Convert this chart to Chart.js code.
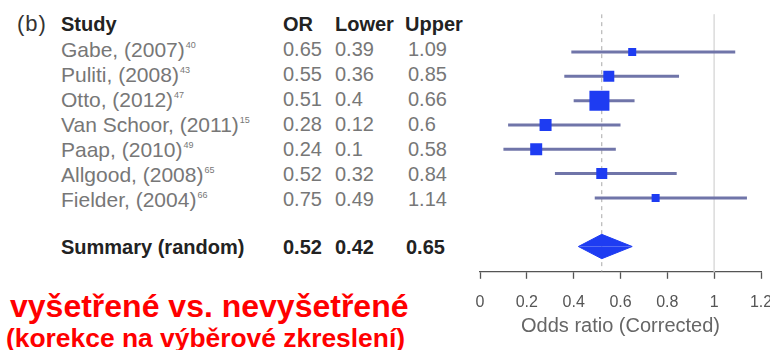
<!DOCTYPE html>
<html>
<head>
<meta charset="utf-8">
<script src="https://cdn.jsdelivr.net/npm/chart.js@4/dist/chart.umd.min.js"></script>
<style>
  html, body { margin: 0; padding: 0; background: #fff; }
  body { width: 770px; height: 350px; position: relative; overflow: hidden; font-family: "Liberation Sans", Arial, sans-serif; }
  .t { position: absolute; white-space: nowrap; font-size: 20px; line-height: 25px; color: #777; }
  .nm { font-size: 21px; }
  .hd { color: #222; font-weight: bold; font-size: 20px; }
  sup { font-size: 9px; vertical-align: 9px; line-height: 0; margin-left: 1px; }
  .red { position: absolute; white-space: nowrap; color: #ff0000; font-weight: bold; line-height: 1; }
  #wrap { position: absolute; left: 460px; top: 0; width: 340px; height: 350px; }
</style>
</head>
<body>
<div class="t" style="left:17px; top:11px; color:#333; font-size:22px; letter-spacing:1px;">(b)</div>
<div id="table"></div>
<div class="red" style="left:10px; top:290px; font-size:32px;">vyšetřené vs. nevyšetřené</div>
<div class="red" style="left:6px; top:325px; font-size:26.4px;">(korekce na výběrové zkreslení)</div>
<div id="wrap"><canvas id="forest" width="340" height="350"></canvas></div>

<script>
// data
const studies = ['Gabe, (2007)', 'Puliti, (2008)', 'Otto, (2012)', 'Van Schoor, (2011)', 'Paap, (2010)', 'Allgood, (2008)', 'Fielder, (2004)'];
const refs = ['40', '43', '47', '15', '49', '65', '66'];
const orValues = [0.65, 0.55, 0.51, 0.28, 0.24, 0.52, 0.75];
const lowerValues = [0.39, 0.36, 0.4, 0.12, 0.1, 0.32, 0.49];
const upperValues = [1.09, 0.85, 0.66, 0.6, 0.58, 0.84, 1.14];
const weights = [4, 5.5, 10, 6, 6, 5.5, 4]; // relative box weights
const summary = { label: 'Summary (random)', or: 0.52, lower: 0.42, upper: 0.65 };
const xTicks = [0, 0.2, 0.4, 0.6, 0.8, 1, 1.2];
const summaryRow = 9;

// left-hand table (html text)
const table = document.getElementById('table');
function cell(txt, left, row, cls) {
  const d = document.createElement('div');
  d.className = 't' + (cls ? ' ' + cls : '');
  d.style.left = left + 'px';
  d.style.top = (12 + row * 25) + 'px';
  d.innerHTML = txt;
  table.appendChild(d);
}
cell('Study', 61, 0, 'hd');
cell('OR', 283, 0, 'hd');
cell('Lower', 335, 0, 'hd');
cell('Upper', 405, 0, 'hd');
studies.forEach((s, i) => {
  cell(s + '<sup>' + refs[i] + '</sup>', 61, i + 1, 'nm');
  cell(String(orValues[i]), 283, i + 1);
  cell(String(lowerValues[i]), 335, i + 1);
  cell(String(upperValues[i]), 408, i + 1);
});
cell(summary.label, 61, summaryRow - 0.1, 'hd');
cell(String(summary.or), 283, summaryRow - 0.1, 'hd');
cell(String(summary.lower), 335, summaryRow - 0.1, 'hd');
cell(String(summary.upper), 406, summaryRow - 0.1, 'hd');

// chart datasets
const BLUE = '#1e3cf2';
const datasets = [];

datasets.push({
  type: 'scatter',
  data: orValues.map((v, i) => ({ x: v, y: i + 1 })),
  pointStyle: 'rect',
  pointRadius: weights.map(w => w * Math.SQRT2),
  backgroundColor: BLUE,
  borderColor: BLUE,
  borderWidth: 0,
  order: 0
});

// summary diamond: upper and lower halves filled to the summary row
[summaryRow - 0.5, summaryRow + 0.5].forEach(tip => {
  datasets.push({
    type: 'line',
    data: [{ x: summary.lower, y: summaryRow }, { x: summary.or, y: tip }, { x: summary.upper, y: summaryRow }],
    borderColor: BLUE,
    borderWidth: 1,
    backgroundColor: BLUE,
    fill: { value: summaryRow },
    pointRadius: 0,
    tension: 0,
    order: 1
  });
});

// confidence intervals
studies.forEach((s, i) => {
  datasets.push({
    type: 'line',
    data: [{ x: lowerValues[i], y: i + 1 }, { x: upperValues[i], y: i + 1 }],
    borderColor: '#7075a9',
    borderWidth: 3,
    pointRadius: 0,
    fill: false,
    order: 2
  });
});

// reference lines: no effect (1) and summary estimate
datasets.push({
  type: 'line',
  data: [{ x: 1, y: -0.56 }, { x: 1, y: 10.04 }],
  borderColor: '#dedede',
  borderWidth: 1,
  pointRadius: 0,
  order: 3
});
datasets.push({
  type: 'line',
  data: [{ x: summary.or, y: -0.56 }, { x: summary.or, y: 10.04 }],
  borderColor: '#a8a8a8',
  borderWidth: 1,
  borderDash: [4, 4],
  pointRadius: 0,
  order: 3
});

new Chart(document.getElementById('forest'), {
  type: 'scatter',
  data: { datasets },
  options: {
    responsive: false,
    animation: false,
    events: [],
    layout: { padding: { left: 20, right: 39, top: 8, bottom: 12 } },
    plugins: { legend: { display: false }, tooltip: { enabled: false } },
    scales: {
      x: {
        type: 'linear',
        min: 0,
        max: 1.2,
        afterBuildTicks: axis => { axis.ticks = xTicks.map(v => ({ value: v })); },
        ticks: {
          callback: v => String(v),
          color: '#555',
          font: { family: 'Liberation Sans', size: 16 },
          padding: 14,
          maxRotation: 0,
          autoSkip: false
        },
        grid: { drawOnChartArea: false, drawTicks: true, tickLength: 7, color: '#555', tickWidth: 1.3 },
        border: { display: true, color: '#555', width: 1.3 },
        title: {
          display: true,
          text: 'Odds ratio (Corrected)',
          color: '#666',
          font: { family: 'Liberation Sans', size: 20 },
          padding: { top: -12, bottom: 0 }
        }
      },
      y: {
        type: 'linear',
        reverse: true,
        min: -0.56,
        max: 10.04,
        display: false
      }
    }
  }
});
</script>
</body>
</html>
